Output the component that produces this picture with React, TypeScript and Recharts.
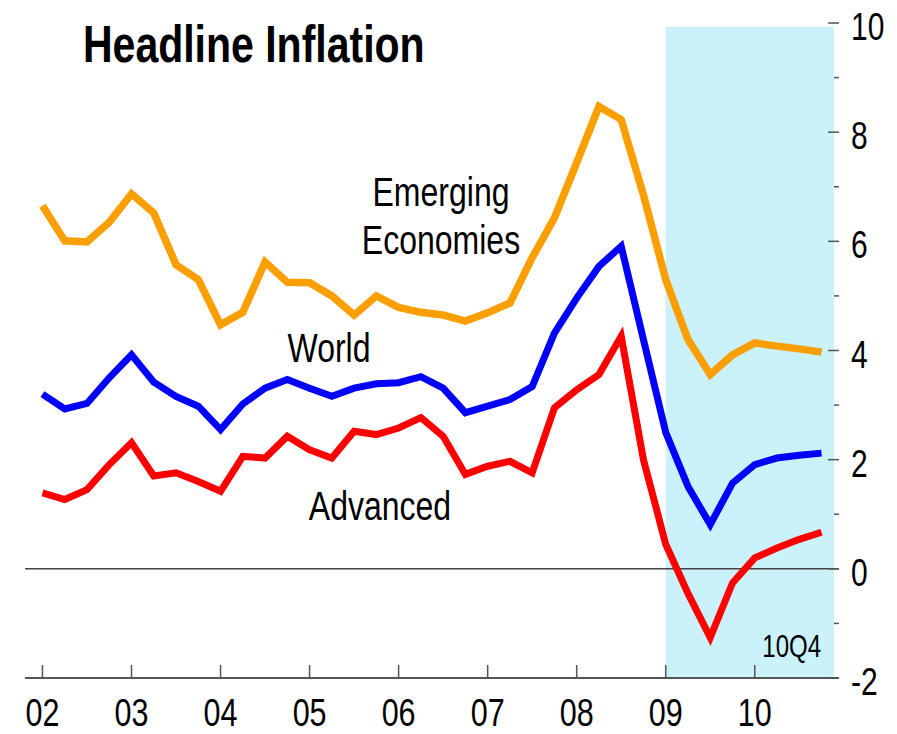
import React from 'react';
import { LineChart, Line, XAxis, YAxis, ReferenceArea, ReferenceLine } from 'recharts';

// Quarterly, 2002Q1 .. 2010Q4 (index 0..35)
const quarterIndex: number[] = Array.from({ length: 36 }, (_, k) => k);
const yearTickLabels = ['02', '03', '04', '05', '06', '07', '08', '09', '10'];
const yearTickPositions = [0, 4, 8, 12, 16, 20, 24, 28, 32];
const yTicks = [-2, -1, 0, 1, 2, 3, 4, 5, 6, 7, 8, 9, 10];

const emerging = [6.65, 6.01, 5.99, 6.35, 6.87, 6.52, 5.57, 5.3, 4.47, 4.7, 5.62, 5.25, 5.24, 5.0, 4.65, 5.0, 4.79, 4.7, 4.65, 4.54, 4.69, 4.87, 5.7, 6.43, 7.44, 8.47, 8.23, 6.85, 5.3, 4.2, 3.56, 3.92, 4.14, 4.08, 4.03, 3.97];
const world = [3.2, 2.93, 3.03, 3.5, 3.92, 3.42, 3.16, 2.98, 2.55, 3.02, 3.31, 3.47, 3.31, 3.16, 3.31, 3.39, 3.41, 3.52, 3.31, 2.86, 2.98, 3.1, 3.34, 4.32, 4.96, 5.54, 5.91, 4.2, 2.5, 1.51, 0.81, 1.57, 1.91, 2.03, 2.08, 2.12];
const advanced = [1.39, 1.27, 1.45, 1.91, 2.31, 1.7, 1.76, 1.6, 1.42, 2.06, 2.03, 2.43, 2.18, 2.03, 2.52, 2.46, 2.58, 2.77, 2.43, 1.73, 1.88, 1.97, 1.76, 2.95, 3.28, 3.56, 4.26, 2.0, 0.45, -0.45, -1.26, -0.26, 0.2, 0.38, 0.54, 0.67];

const shadeStart = 28; // 2009Q1
const shadeEnd = 35.56;
const shadeTop = 9.93;
const lastQuarterLabel = '10Q4';

const data = quarterIndex.map((i) => ({
  i,
  emerging: emerging[i],
  world: world[i],
  advanced: advanced[i],
}));

const FONT = '"Liberation Sans", Arial, Helvetica, sans-serif';
const SY = 1.28;
const AXIS = '#555';

const SText = ({ x, y, size, anchor = 'start', weight = 'normal', children }: any) => (
  <text
    transform={`translate(${x},${y}) scale(1,${SY})`}
    x={0}
    y={0}
    fontSize={size}
    fontFamily={FONT}
    fontWeight={weight}
    textAnchor={anchor}
    fill="#000"
  >
    {children}
  </text>
);

const LeftTick = (props: any) => {
  const { x, y, payload } = props;
  const major = payload.value % 2 === 0;
  return (
    <line x1={x} x2={x + (major ? 12 : 6)} y1={y} y2={y} stroke={AXIS} strokeWidth={1.5} />
  );
};

const RightTick = (props: any) => {
  const { x, y, payload } = props;
  const major = payload.value % 2 === 0;
  return (
    <g>
      <line x1={x - (major ? 11 : 5)} x2={x} y1={y} y2={y} stroke={AXIS} strokeWidth={1.5} />
      {major ? (
        <SText x={x + 12} y={y + 17} size={30}>
          {String(payload.value)}
        </SText>
      ) : null}
    </g>
  );
};

const BottomTick = (props: any) => {
  const { x, y, payload } = props;
  const idx = yearTickPositions.indexOf(payload.value);
  return (
    <g>
      <line x1={x} x2={x} y1={y} y2={y - 13} stroke={AXIS} strokeWidth={1.5} />
      <SText x={x} y={y + 48} size={30.5} anchor="middle">
        {yearTickLabels[idx]}
      </SText>
    </g>
  );
};

const AreaLabel = (props: any) => {
  const vb = props.viewBox || {};
  const x = (vb.x || 0) + (vb.width || 0) - 13;
  const y = (vb.y || 0) + (vb.height || 0) - 21;
  return (
    <SText x={x} y={y} size={24} anchor="end">
      {lastQuarterLabel}
    </SText>
  );
};

export default function App() {
  return (
    <div style={{ position: 'absolute', left: 0, top: 0, width: 897, height: 734, background: '#fff' }}>
      <LineChart width={897} height={734} data={data} margin={{ top: 23, right: 0, bottom: 0, left: 0 }}>
        <ReferenceArea
          yAxisId="right"
          x1={shadeStart}
          x2={shadeEnd}
          y1={-2}
          y2={shadeTop}
          fill="#CBF1FB"
          fillOpacity={1}
          stroke="none"
          label={<AreaLabel />}
        />
        <XAxis
          dataKey="i"
          type="number"
          domain={[-0.785, 35.785]}
          ticks={yearTickPositions}
          interval={0}
          height={56}
          tickSize={0}
          tickMargin={0}
          tickLine={false}
          axisLine={{ stroke: AXIS, strokeWidth: 2 }}
          tick={<BottomTick />}
        />
        <YAxis
          yAxisId="left"
          orientation="left"
          width={25}
          domain={[-2, 10]}
          ticks={yTicks}
          interval={0}
          tickSize={0}
          tickMargin={0}
          tickLine={false}
          axisLine={false}
          tick={<LeftTick />}
        />
        <YAxis
          yAxisId="right"
          orientation="right"
          width={58}
          domain={[-2, 10]}
          ticks={yTicks}
          interval={0}
          tickSize={0}
          tickMargin={0}
          tickLine={false}
          axisLine={false}
          tick={<RightTick />}
        />
        <ReferenceLine yAxisId="right" y={0} stroke="#444" strokeWidth={1.5} />
        <Line
          yAxisId="right"
          dataKey="emerging"
          type="linear"
          stroke="#FB9F00"
          strokeWidth={7.5}
          dot={false}
          activeDot={false}
          strokeLinejoin="miter"
          isAnimationActive={false}
        />
        <Line
          yAxisId="right"
          dataKey="world"
          type="linear"
          stroke="#0000FF"
          strokeWidth={7}
          dot={false}
          activeDot={false}
          strokeLinejoin="miter"
          isAnimationActive={false}
        />
        <Line
          yAxisId="right"
          dataKey="advanced"
          type="linear"
          stroke="#FF0000"
          strokeWidth={7}
          dot={false}
          activeDot={false}
          strokeLinejoin="miter"
          isAnimationActive={false}
        />
        <SText x={83} y={62} size={41} weight="bold">Headline Inflation</SText>
        <SText x={441} y={206} size={32} anchor="middle">Emerging</SText>
        <SText x={441} y={254} size={32} anchor="middle">Economies</SText>
        <SText x={329} y={362} size={32} anchor="middle">World</SText>
        <SText x={380} y={520} size={32} anchor="middle">Advanced</SText>
      </LineChart>
    </div>
  );
}
